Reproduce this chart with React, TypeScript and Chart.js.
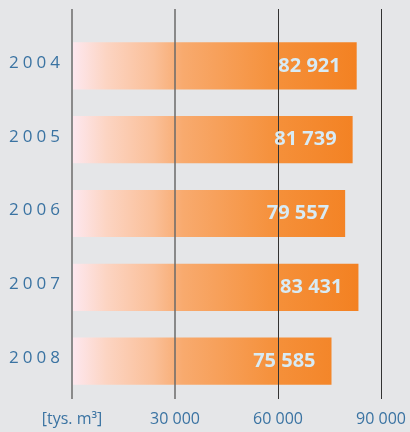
import React, { useEffect, useRef } from "react";
import { Chart, registerables } from "chart.js";

Chart.register(...registerables);

const years = ["2004", "2005", "2006", "2007", "2008"];
const volumes = [82921, 81739, 79557, 83431, 75585];
const xTicks = [0, 30000, 60000, 90000];
const unitLabel = "[tys. m³]";

const fmt = (v: number) => {
  const s = String(Math.round(v));
  return s.replace(/\B(?=(\d{3})+(?!\d))/g, " ");
};

const FONT = "'Open Sans', 'Noto Sans', sans-serif";
const BLUE = "#3a73a2";

export default function App() {
  const ref = useRef<HTMLCanvasElement | null>(null);
  useEffect(() => {
    document.body.style.margin = "0";
    document.body.style.background = "#e5e6e8";
    const canvas = ref.current!;
    const overlay = {
      id: "overlay",
      afterDatasetsDraw(chart: any) {
        const ctx = chart.ctx;
        const xs = chart.scales.x;
        const ys = chart.scales.y;
        const area = chart.chartArea;
        ctx.save();
        const styles = [
          { c: "#8a8a8a", w: 2 },
          { c: "#6a6a6a", w: 1.5 },
          { c: "#333333", w: 1 },
          { c: "#333333", w: 1 },
        ];
        xTicks.forEach((t, i) => {
          const x = Math.round(xs.getPixelForValue(t)) + (styles[i].w === 1 ? 0.5 : 0);
          ctx.strokeStyle = styles[i].c;
          ctx.lineWidth = styles[i].w;
          ctx.beginPath();
          ctx.moveTo(x, area.top - 20);
          ctx.lineTo(x, area.bottom + 1);
          ctx.stroke();
        });
        const meta = chart.getDatasetMeta(0);
        ctx.font = `bold 20px ${FONT}`;
        ctx.fillStyle = "#d8ebf5";
        ctx.textAlign = "right";
        ctx.textBaseline = "middle";
        meta.data.forEach((bar: any, i: number) => {
          ctx.fillText(fmt(volumes[i]), bar.x - 16, bar.y);
        });
        ctx.font = `17px ${FONT}`;
        ctx.fillStyle = BLUE;
        ctx.textAlign = "left";
        (ctx as any).letterSpacing = "4px";
        years.forEach((y, i) => {
          ctx.fillText(y, 9, ys.getPixelForValue(i) - 3);
        });
        ctx.restore();
      },
    };
    const chart = new Chart(canvas, {
      type: "bar",
      data: {
        labels: years,
        datasets: [
          {
            data: volumes,
            barPercentage: 0.64,
            categoryPercentage: 1,
            backgroundColor: (c: any) => {
              const ch = c.chart;
              const area = ch.chartArea;
              if (!area) return "#f3821f";
              const xs = ch.scales.x;
              const x0 = area.left;
              const x1 = xs.getPixelForValue(85000);
              const g = ch.ctx.createLinearGradient(x0, 0, x1, 0);
              g.addColorStop(0, "#fde8f0");
              g.addColorStop(0.12, "#fcd4c2");
              g.addColorStop(0.28, "#fabf98");
              g.addColorStop(0.38, "#f8aa6e");
              g.addColorStop(0.7, "#f5903a");
              g.addColorStop(1, "#f38020");
              return g;
            },
            borderWidth: 0,
          },
        ],
      },
      options: {
        indexAxis: "y",
        animation: false,
        responsive: true,
        maintainAspectRatio: false,
        layout: { padding: { left: 72, right: 29, top: 29, bottom: 0 } },
        plugins: { legend: { display: false }, tooltip: { enabled: false } },
        scales: {
          x: {
            min: 0,
            max: 90000,
            afterBuildTicks: (axis: any) => {
              axis.ticks = xTicks.map((v) => ({ value: v }));
            },
            afterFit: (axis: any) => {
              axis.height = 34;
              axis.paddingLeft = 0;
              axis.paddingRight = 0;
            },
            grid: { display: false, drawTicks: false },
            border: { display: false },
            ticks: {
              color: BLUE,
              font: { family: FONT, size: 16 },
              padding: 12,
              maxRotation: 0,
              autoSkip: false,
              callback: (v: any) => (Number(v) === 0 ? unitLabel : fmt(Number(v))),
            },
          },
          y: {
            display: false,
          },
        },
      },
      plugins: [overlay],
    } as any);
    return () => chart.destroy();
  }, []);
  return (
    <div style={{ width: 410, height: 432, position: "relative" }}>
      <canvas ref={ref} />
    </div>
  );
}
